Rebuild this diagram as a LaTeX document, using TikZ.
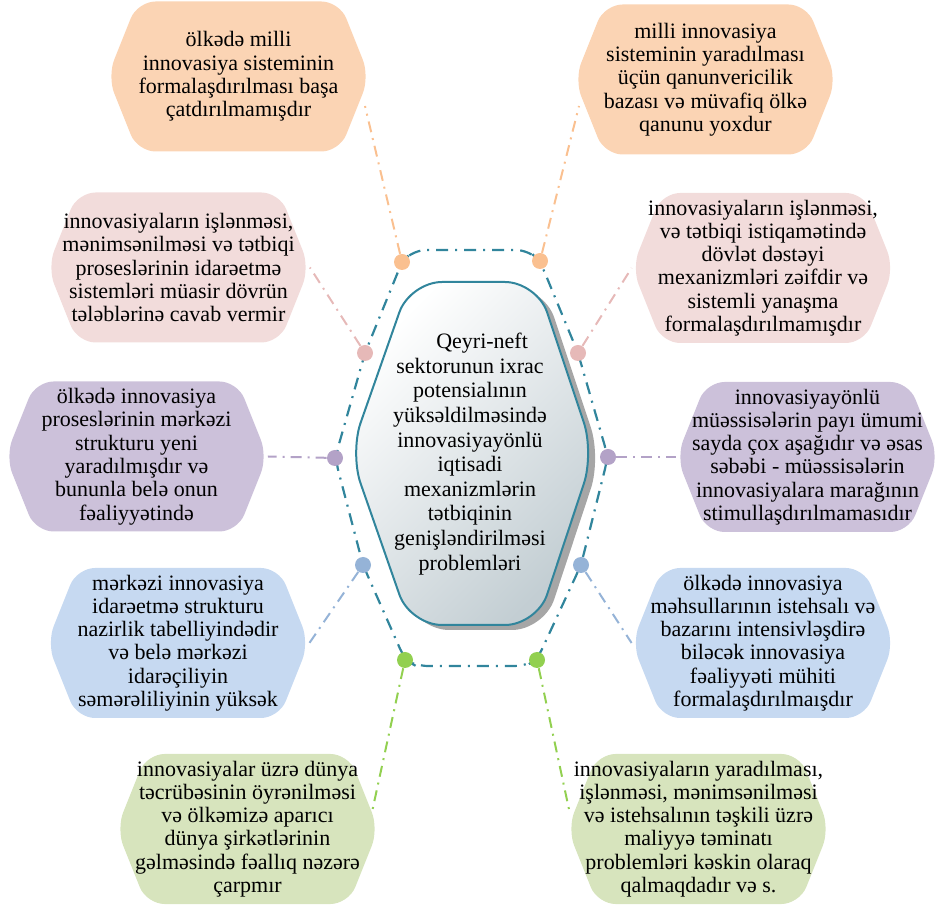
\documentclass[tikz,border=0pt]{standalone}
\usepackage{fontspec}
\setmainfont{Liberation Serif}
\usetikzlibrary{calc}
\definecolor{peach}{HTML}{FBD4B4}
\definecolor{peachline}{HTML}{FAC090}
\definecolor{rose}{HTML}{F2DCDB}
\definecolor{roseline}{HTML}{E6B9B8}
\definecolor{lilac}{HTML}{CCC1DA}
\definecolor{lilacline}{HTML}{B3A2C7}
\definecolor{sky}{HTML}{C6D9F1}
\definecolor{skyline}{HTML}{95B3D7}
\definecolor{sage}{HTML}{D7E4BD}
\definecolor{sageline}{HTML}{92D050}
\definecolor{petrol}{HTML}{31859C}
\definecolor{coreend}{HTML}{C3CED3}
\tikzset{
  hexbox/.style={minimum width=131pt, minimum height=75pt, inner sep=0pt, align=center,
    font=\fontsize{11}{11.65}\selectfont,
    path picture={\fill[#1, rounded corners=9pt] (path picture bounding box.west)
      -- ([xshift=15pt]path picture bounding box.north west) -- ([xshift=-15pt]path picture bounding box.north east)
      -- (path picture bounding box.east) -- ([xshift=-15pt]path picture bounding box.south east)
      -- ([xshift=15pt]path picture bounding box.south west) -- cycle;}},
  dot/.style={circle, fill=#1, minimum size=8pt, inner sep=0pt},
  link/.style={#1, line width=1pt, dash pattern=on 5.5pt off 3pt on 1pt off 3pt},
  ring/.style={petrol, line width=1.1pt, dash pattern=on 6pt off 3.5pt on 1pt off 3.5pt, rounded corners=6pt}
}
\begin{document}
\begin{tikzpicture}[x=0.5pt, y=-0.5pt]
\useasboundingbox (0,0) rectangle (943,908);
% problem boxes
\node[hexbox=peach] (ol) at (238.5,76.5) {ölkədə milli\\innovasiya sisteminin\\formalaşdırılması başa\\çatdırılmamışdır};
\node[hexbox=peach] (or) at (705.5,79.5) {milli innovasiya\\sisteminin yaradılması\\üçün qanunvericilik\\bazası və müvafiq ölkə\\qanunu yoxdur};
\node[hexbox=rose] (pl) at (178.5,267.5) {innovasiyaların işlənməsi,\\mənimsənilməsi və tətbiqi\\proseslərinin idarəetmə\\sistemləri müasir dövrün\\tələblərinə cavab vermir};
\node[hexbox=rose] (pr) at (763,268) {innovasiyaların işlənməsi,\\və tətbiqi istiqamətində\\dövlət dəstəyi\\mexanizmləri zəifdir və\\sistemli yanaşma\\formalaşdırılmamışdır};
\node[hexbox=lilac] (ul) at (136.5,456.5) {ölkədə innovasiya\\proseslərinin mərkəzi\\strukturu yeni\\yaradılmışdır və\\bununla belə onun\\fəaliyyətində};
\node[hexbox=lilac] (ur) at (807.5,457) {innovasiyayönlü\\müəssisələrin payı ümumi\\sayda çox aşağıdır və əsas\\səbəbi - müəssisələrin\\innovasiyalara marağının\\stimullaşdırılmamasıdır};
\node[hexbox=sky] (bl) at (178,643) {mərkəzi innovasiya\\idarəetmə strukturu\\nazirlik tabelliyindədir\\və belə mərkəzi\\idarəçiliyin\\səmərəliliyinin yüksək};
\node[hexbox=sky] (br) at (763,643) {ölkədə innovasiya\\məhsullarının istehsalı və\\bazarını intensivləşdirə\\biləcək innovasiya\\fəaliyyəti mühiti\\formalaşdırılmaışdır};
\node[hexbox=sage] (gl) at (247.5,829) {innovasiyalar üzrə dünya\\təcrübəsinin öyrənilməsi\\və ölkəmizə aparıcı\\dünya şirkətlərinin\\gəlməsində fəallıq nəzərə\\çarpmır};
\node[hexbox=sage] (gr) at (698.5,829) {innovasiyaların yaradılması,\\işlənməsi, mənimsənilməsi\\və istehsalının təşkili üzrə\\maliyyə təminatı\\problemləri kəskin olaraq\\qalmaqdadır və s.};
\coordinate (ol-tip) at (365,106);
\coordinate (or-tip) at (579,106);
\coordinate (gl-tip) at (372,812);
\coordinate (gr-tip) at (570,814);
% ring through the dots
\coordinate (p-ol) at (402,262);
\coordinate (p-or) at (540,261);
\coordinate (p-pl) at (365,353);
\coordinate (p-pr) at (578,353);
\coordinate (p-ul) at (335,458);
\coordinate (p-ur) at (608,457);
\coordinate (p-bl) at (363,565);
\coordinate (p-br) at (581,565);
\coordinate (p-gl) at (405,660);
\coordinate (p-gr) at (537,660);
\draw[ring] (p-ol) -- (p-pl) -- (p-ul) -- (p-bl) -- (p-gl) -- (416,666) -- (526,666) -- (p-gr)
  -- (p-br) -- (p-ur) -- (p-pr) -- (p-or) -- (528,250) -- (414,250) -- cycle;
\node[dot=peachline] (d-ol) at (p-ol) {};
\node[dot=peachline] (d-or) at (p-or) {};
\node[dot=roseline] (d-pl) at (p-pl) {};
\node[dot=roseline] (d-pr) at (p-pr) {};
\node[dot=lilacline] (d-ul) at (p-ul) {};
\node[dot=lilacline] (d-ur) at (p-ur) {};
\node[dot=skyline] (d-bl) at (p-bl) {};
\node[dot=skyline] (d-br) at (p-br) {};
\node[dot=sageline] (d-gl) at (p-gl) {};
\node[dot=sageline] (d-gr) at (p-gr) {};
% links
\draw[link=peachline] (d-ol) -- (ol-tip);
\draw[link=peachline] (d-or) -- (or-tip);
\draw[link=roseline] (d-pl) -- (pl.east);
\draw[link=roseline] (d-pr) -- (pr.west);
\draw[link=lilacline] (d-ul) -- (ul.east);
\draw[link=lilacline] (d-ur) -- (ur.west);
\draw[link=skyline] (d-bl) -- (bl.east);
\draw[link=skyline] (d-br) -- (br.west);
\draw[link=sageline] (d-gl) -- (gl-tip);
\draw[link=sageline] (d-gr) -- (gr-tip);
% core
\fill[gray!70, rounded corners=16pt, shift={(7,5)}] (350,453) -- (410,282) -- (537,282) -- (594,453) -- (537,625) -- (410,625) -- cycle;
\shade[top color=white, bottom color=coreend, shading angle=45, draw=petrol, line width=1pt, rounded corners=16pt]
  (350,453) -- (410,282) -- (537,282) -- (594,453) -- (537,625) -- (410,625) -- cycle;
\node[align=center, font=\fontsize{11}{12.3}\selectfont] (core) at (470,454) {\hspace*{1.1em}Qeyri-neft\\sektorunun ixrac\\potensialının\\yüksəldilməsində\\innovasiyayönlü\\iqtisadi\\mexanizmlərin\\tətbiqinin\\genişləndirilməsi\\problemləri};
\end{tikzpicture}
\end{document}
